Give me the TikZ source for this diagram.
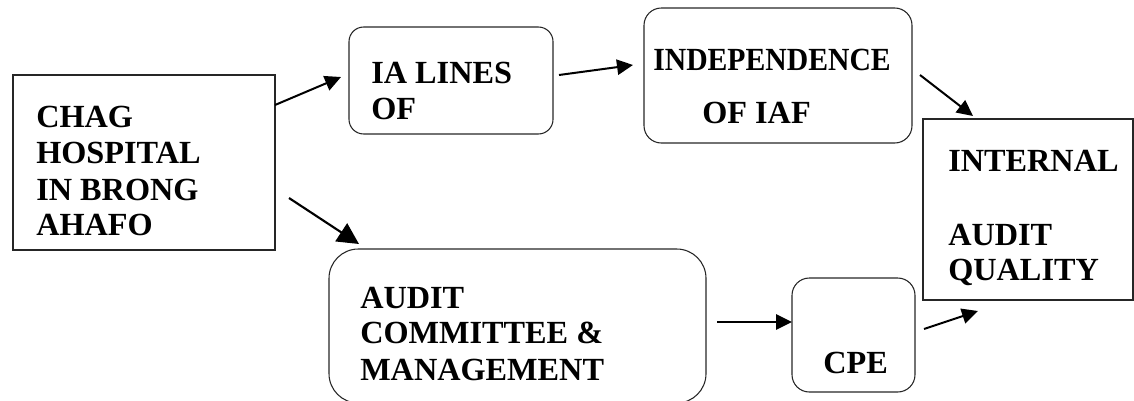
\documentclass[tikz,border=0pt]{standalone}
\usepackage{fontspec}
\setmainfont{Liberation Serif}
\usetikzlibrary{arrows.meta}
\begin{document}
\begin{tikzpicture}[x=0.75pt,y=-0.75pt,
  frame/.style 2 args={draw=black!85, line width=0.8pt, inner sep=0pt,
    minimum width=#1*0.75pt, minimum height=#2*0.75pt},
  lbl/.style={anchor=base west, inner sep=0pt,
    font=\fontsize{24.2}{28}\selectfont\bfseries},
  arr/.style={line width=1.5pt, -{Triangle[length=12pt,width=11.5pt]}},
  bigarr/.style={line width=1.6pt, -{Triangle[length=16pt,width=16pt]}}]
\useasboundingbox (0,0) rectangle (1134,400);
\clip (0,0) rectangle (1134,400);

% boxes
\node[frame={262}{175}] (chag) at (144,162.5) {};
\node[frame={204}{107}, rounded corners=11pt] (ia) at (451,80.5) {};
\node[frame={268}{135}, rounded corners=13pt] (indep) at (778,75.5) {};
\node[frame={210}{181}] (iaq) at (1028,209.5) {};
\node[frame={377}{154}, rounded corners=22pt] (acm) at (517.5,326) {};
\node[frame={123}{114}, rounded corners=13pt] (cpe) at (853.5,335) {};

% labels
\node[lbl] (chag1) at (36,127) {CHAG};
\node[lbl] (chag2) at (36,163) {HOSPITAL};
\node[lbl] (chag3) at (36,200) {IN BRONG};
\node[lbl] (chag4) at (36,235) {AHAFO};
\node[lbl] (ia1) at (371,83) {IA LINES};
\node[lbl] (ia2) at (371,119) {OF};
\node[lbl] (indep1) at (653,70) {\scalebox{0.92}[1]{INDEPENDENCE}};
\node[lbl] (indep2) at (702,123) {OF IAF};
\node[lbl] (iaq1) at (948,171) {INTERNAL};
\node[lbl] (iaq2) at (948,245) {AUDIT};
\node[lbl] (iaq3) at (948,280) {QUALITY};
\node[lbl] (acm1) at (360,308) {AUDIT};
\node[lbl] (acm2) at (360,343) {COMMITTEE \&};
\node[lbl] (acm3) at (360,380) {MANAGEMENT};
\node[lbl] (cpe1) at (823,373) {CPE};

% connector ends
\coordinate (a1s) at (275,105);  \coordinate (a1e) at (341,77);
\coordinate (a2s) at (289,198);  \coordinate (a2e) at (359,244);
\coordinate (a3s) at (559,75);   \coordinate (a3e) at (633,65);
\coordinate (a4s) at (920,75);   \coordinate (a4e) at (973,116);
\coordinate (a5s) at (717,322);  \coordinate (a5e) at (792,322);
\coordinate (a6s) at (924,329);  \coordinate (a6e) at (978,311);

% connectors
\draw[arr] (a1s) -- (a1e);
\draw[bigarr] (a2s) -- (a2e);
\draw[arr] (a3s) -- (a3e);
\draw[arr] (a4s) -- (a4e);
\draw[arr] (a5s) -- (a5e);
\draw[arr] (a6s) -- (a6e);
\end{tikzpicture}
\end{document}
